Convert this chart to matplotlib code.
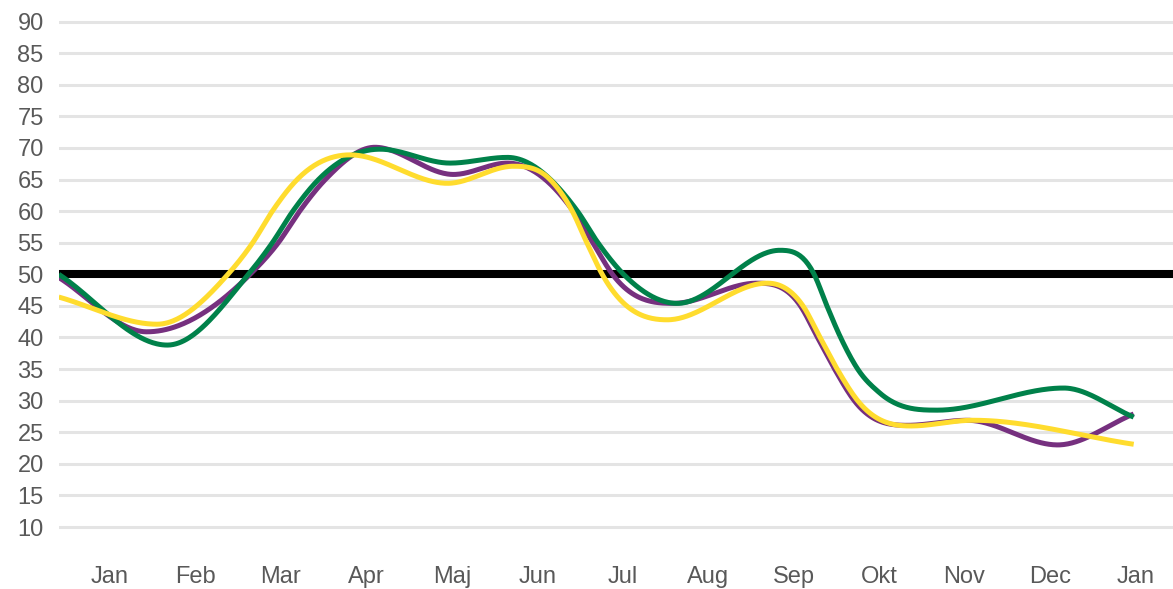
### Smoothed monthly index lines vs. 50 reference ###
import numpy as np
import matplotlib.pyplot as plt

months = ['Jan', 'Feb', 'Mar', 'Apr', 'Maj', 'Jun', 'Jul',
          'Aug', 'Sep', 'Okt', 'Nov', 'Dec', 'Jan']
reference = 50

# x in month units (first Jan = 0), y = index value
purple_x = [-0.60, 0.43, 1.64, 1.97, 2.22, 2.52, 3.10, 4.02, 4.65, 5.42,
            5.65, 5.88, 6.59, 7.57, 8.08, 8.28, 8.48, 8.71, 9.33, 10.03,
            11.09, 11.98]
purple_y = [49.5, 40.9, 50.0, 55.0, 60.0, 65.0, 70.1, 65.8, 67.6, 60.0,
            55.0, 50.0, 45.4, 48.6, 45.0, 40.0, 35.0, 30.0, 26.1, 26.9,
            23.0, 27.9]

green_x = [-0.60, 0.67, 1.62, 1.90, 2.14, 2.44, 3.16, 3.98, 4.65, 5.47,
           5.71, 6.01, 6.64, 7.84, 8.24, 8.39, 8.55, 8.75, 9.01, 9.68,
           11.16, 11.98]
green_y = [50.0, 38.8, 50.0, 55.0, 60.0, 65.0, 69.8, 67.6, 68.5, 60.0,
           55.0, 50.0, 45.4, 53.8, 50.0, 45.0, 40.0, 35.0, 31.2, 28.5,
           32.0, 27.4]

yellow_x = [-0.60, 0.55, 1.38, 1.67, 1.90, 2.19, 2.81, 3.95, 4.72, 5.15,
            5.41, 5.58, 5.76, 6.52, 7.69, 8.11, 8.31, 8.51, 8.75, 9.37,
            10.10, 11.98]
yellow_y = [46.4, 42.1, 50.0, 55.0, 60.0, 65.0, 68.9, 64.4, 67.1, 65.0,
            60.0, 55.0, 50.0, 42.8, 48.6, 45.0, 40.0, 35.0, 30.0, 26.0,
            26.9, 23.1]


def smooth(x, y, n=800):
    '''
    Cubic Hermite curve through the points: 3-point slopes, flat at
    turning points, clamped so it never overshoots between points
    '''
    x = np.asarray(x, float)
    y = np.asarray(y, float)
    h = np.diff(x)
    d = np.diff(y) / h
    m = np.zeros_like(y)
    m[0], m[-1] = d[0], d[-1]
    for i in range(1, len(y) - 1):
        if d[i-1] * d[i] > 0:
            s = (h[i]*d[i-1] + h[i-1]*d[i]) / (h[i-1] + h[i])
            lim = 3 * min(abs(d[i-1]), abs(d[i]))
            m[i] = np.sign(s) * min(abs(s), lim)
    xs = np.linspace(x[0], x[-1], n)
    k = np.clip(np.searchsorted(x, xs) - 1, 0, len(h) - 1)
    t = (xs - x[k]) / h[k]
    h00 = 2*t**3 - 3*t**2 + 1
    h10 = t**3 - 2*t**2 + t
    h01 = -2*t**3 + 3*t**2
    h11 = t**3 - t**2
    ys = h00*y[k] + h10*h[k]*m[k] + h01*y[k+1] + h11*h[k]*m[k+1]
    return xs, ys


plt.rcParams['font.family'] = ['Liberation Sans', 'DejaVu Sans']

fig = plt.figure(figsize=(11.73, 5.89), dpi=100)
ax = fig.add_axes([0.0503, 0.0998, 0.9497, 0.869])

ax.axhline(reference, color='black', linewidth=5.8, zorder=2)
for xs, ys, col in [(purple_x, purple_y, '#76307f'),
                    (green_x, green_y, '#00814a'),
                    (yellow_x, yellow_y, '#ffdc2e')]:
    sx, sy = smooth(xs, ys)
    ax.plot(sx, sy, color=col, linewidth=3.6, solid_capstyle='butt', zorder=3)

ax.set_xlim(-0.597, 12.44)
ax.set_ylim(9.5, 90.5)
ax.set_yticks(range(10, 91, 5))
ax.set_xticks(range(len(months)))
ax.set_xticklabels(months)
ax.grid(axis='y', color='#e4e4e4', linewidth=2.2)
ax.set_axisbelow(True)
for s in ax.spines.values():
    s.set_visible(False)
ax.tick_params(axis='both', length=0, labelsize=17, labelcolor='#595959')
ax.tick_params(axis='x', pad=26)
ax.tick_params(axis='y', pad=11)

fig.savefig('out.png', dpi=100)
